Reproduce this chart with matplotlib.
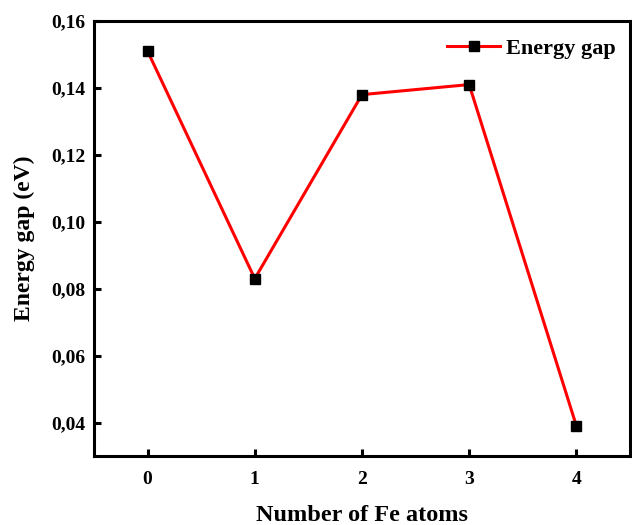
import matplotlib
matplotlib.use("Agg")
import matplotlib.pyplot as plt

# Band gap versus number of Fe atoms
fe_atoms = [0, 1, 2, 3, 4]
energy_gap = [0.151, 0.083, 0.138, 0.141, 0.039]
y_ticks = [0.04, 0.06, 0.08, 0.10, 0.12, 0.14, 0.16]
y_tick_labels = ["0,04", "0,06", "0,08", "0,10", "0,12", "0,14", "0,16"]

plt.rcParams["font.family"] = ["Liberation Serif", "DejaVu Serif"]
plt.rcParams["font.weight"] = "bold"

fig = plt.figure(figsize=(6.32, 5.25), dpi=100)
ax = fig.add_axes([0.1487, 0.1314, 0.8481, 0.8286])

ax.plot(fe_atoms, energy_gap, color="#ff0000", lw=2.2, marker="s",
        markersize=6.5, markerfacecolor="black", markeredgecolor="black",
        label="Energy gap")

ax.set_xlim(-0.5, 4.5)
ax.set_ylim(0.03, 0.16)
ax.set_xticks(fe_atoms)
ax.set_yticks(y_ticks)
ax.set_yticklabels(y_tick_labels)

for s in ax.spines.values():
    s.set_linewidth(2.2)
ax.tick_params(direction="in", length=5, width=2.2, labelsize=14,
               top=False, right=False)
ax.tick_params(axis="x", pad=11)
ax.tick_params(axis="y", pad=6)
for lbl in ax.get_xticklabels() + ax.get_yticklabels():
    lbl.set_fontweight("bold")

ax.set_xlabel("Number of Fe atoms", fontsize=17.5, fontweight="bold", labelpad=12)
ax.set_ylabel("Energy gap (eV)", fontsize=17, fontweight="bold", labelpad=12)

ax.legend(loc="upper right", bbox_to_anchor=(0.996, 0.988), frameon=False,
          prop={"size": 16, "weight": "bold"},
          handlelength=2.4, handletextpad=0.25, borderaxespad=0.15)

fig.savefig("out.png", dpi=100)
